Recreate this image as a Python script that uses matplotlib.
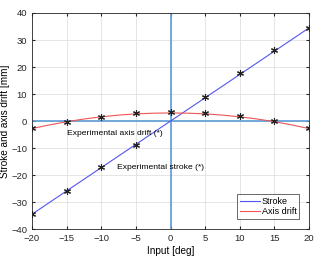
import matplotlib
matplotlib.use("Agg")
import matplotlib.pyplot as plt

# datos
entrada = [-20, -15, -10, -5, 0, 5, 10, 15, 20]
entrada_carrera = [-20, -15, -10, -5, 5, 10, 15, 20]
carrera_exp = [-34.3, -26.0, -17.0, -9.0, 9.0, 17.7, 26.3, 34.3]
deriva_exp = [-2.7, -0.2, 1.6, 2.9, 3.5, 2.9, 1.8, 0.0, -2.5]

entrada_linea = [-20, 20]
carrera_linea = [-34.5, 34.5]
entrada_curva = [-20, -17.5, -15, -12.5, -10, -7.5, -5, -2.5, 0,
                 2.5, 5, 7.5, 10, 12.5, 15, 17.5, 20]
deriva_curva = [-2.8, -1.45, -0.25, 0.75, 1.55, 2.2, 2.65, 2.9, 3.0,
                2.9, 2.65, 2.2, 1.55, 0.75, -0.25, -1.45, -2.8]

plt.rcParams['font.family'] = 'Liberation Sans'
fig = plt.figure(figsize=(3.2, 2.6), dpi=100)
ax = fig.add_axes([0.1, 0.119, 0.866, 0.831])

ax.axhline(0, color='#5b9bd5', lw=1.2, zorder=1)
ax.axvline(0, color='#5b9bd5', lw=1.2, zorder=1)
ax.plot(entrada_linea, carrera_linea, color='#5555ee', lw=0.8, label='Stroke', zorder=2)
ax.plot(entrada_curva, deriva_curva, color='#ee5555', lw=0.8, label='Axis drift', zorder=2)
# asteriscos estilo matlab
ax.plot(entrada_carrera, carrera_exp, marker=(6, 2, 0), ls='none', color='#222222',
        ms=5, mew=0.8, zorder=3)
ax.plot(entrada, deriva_exp, marker=(6, 2, 0), ls='none', color='#222222',
        ms=5, mew=0.8, zorder=3)

ax.text(-15, -4.5, 'Experimental axis drift (*)', fontsize=6.1, va='center', ha='left')
ax.text(-7.7, -17.3, 'Experimental stroke (*)', fontsize=6.1, va='center', ha='left')

ax.set_xlim(-20, 20)
ax.set_ylim(-40, 40)
ax.set_xticks(range(-20, 21, 5))
ax.set_yticks(range(-40, 41, 10))
ax.tick_params(direction='in', labelsize=6.8, top=True, right=True, length=2, colors='#262626')
ax.grid(True, color='#e0e0e0', lw=0.6)
ax.set_axisbelow(True)
for s in ax.spines.values():
    s.set_color('#262626')
    s.set_linewidth(0.6)

ax.set_xlabel('Input [deg]', fontsize=7.2, labelpad=2)
ax.set_ylabel('Stroke and axis drift [mm]', fontsize=7.2, labelpad=1)

leg = ax.legend(loc='lower right', fontsize=6.5, fancybox=False, edgecolor='#262626',
                handlelength=2.2, borderpad=0.3, labelspacing=0.15, handletextpad=0.2,
                borderaxespad=1.1)
leg.get_frame().set_linewidth(0.6)

plt.savefig("out.png", dpi=100)
